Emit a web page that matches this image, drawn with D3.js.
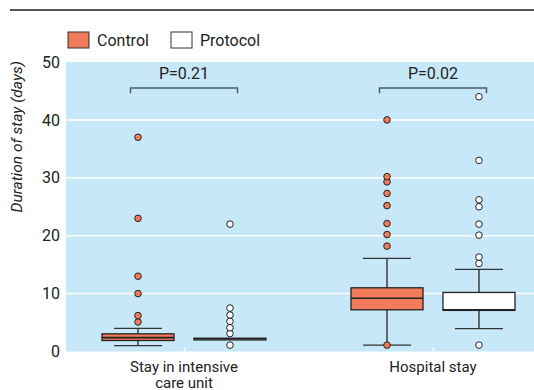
<!DOCTYPE html>
<html>
<head>
<meta charset="utf-8">
<script src="https://cdn.jsdelivr.net/npm/d3@7"></script>
<style>
  body { margin: 0; background: #fff; }
  svg { display: block; font-family: "Roboto", "Liberation Sans", sans-serif; }
</style>
</head>
<body>
<svg id="chart"></svg>
<script>
// categories and groups
const categories = ['Stay in intensive care unit', 'Hospital stay'];
const groups = ['Control', 'Protocol'];
const pValues = ['P=0.21', 'P=0.02'];
const yTicks = [0, 10, 20, 30, 40, 50];

// box stats per category, in order [Control, Protocol]
const icuStats = [
  { low: 1.0, q1: 1.9, median: 2.4, q3: 3.05, high: 4.0 },
  { low: 2.2, q1: 2.0, median: 2.2, q3: 2.3, high: 2.2 }
];
const hospitalStats = [
  { low: 1.1, q1: 7.2, median: 9.2, q3: 11.0, high: 16.1 },
  { low: 3.95, q1: 7.1, median: 7.2, q3: 10.2, high: 14.2 }
];

// outliers
const icuControlOut = [5.1, 6.2, 10, 13, 23, 37];
const icuProtocolOut = [1.1, 3.1, 4.1, 5.2, 6.3, 7.5, 22];
const hospControlOut = [1.1, 18.2, 20.2, 22.1, 25.2, 27.3, 29.3, 30.2, 40];
const hospProtocolOut = [1.1, 15.2, 16.3, 20.1, 22, 25, 26.2, 33, 44];

const colors = { Control: '#f27b5c', Protocol: '#ffffff' };

const W = 534, H = 390;
const margin = { top: 62, right: 0, bottom: 38.5, left: 66 };
const width = W - margin.left - margin.right,
      height = H - margin.top - margin.bottom;

const svg = d3.select('#chart').attr('width', W).attr('height', H);

// rule at the top
svg.append('line')
  .attr('x1', 10).attr('x2', W).attr('y1', 10).attr('y2', 10)
  .attr('stroke', '#555').attr('stroke-width', 2);

// legend
const legend = svg.append('g').attr('transform', 'translate(68,32)');
const legendX = d3.scalePoint().domain(groups).range([0, 103]);
const li = legend.selectAll('g').data(groups).enter().append('g')
  .attr('transform', d => `translate(${legendX(d)},0)`);
li.append('rect')
  .attr('width', 21).attr('height', 16)
  .attr('fill', d => colors[d])
  .attr('stroke', '#333').attr('stroke-width', 1);
li.append('text')
  .attr('x', 29).attr('y', 13.5)
  .attr('font-size', 16).attr('fill', '#222')
  .text(d => d);

const g = svg.append('g').attr('transform', `translate(${margin.left},${margin.top})`);

// background
g.append('rect').attr('width', width).attr('height', height).attr('fill', '#c7e8f8');

const y = d3.scaleLinear().domain([0, 50]).range([height, 0]);
const x = d3.scalePoint().domain(categories).range([118, 367]);
const xg = d3.scaleBand().domain(groups).range([-82, 82]).paddingInner(0.217);
const bw = xg.bandwidth();

// grid
g.selectAll('.grid').data(yTicks.filter(d => d > 0 && d < 50)).enter().append('line')
  .attr('x1', 0).attr('x2', width)
  .attr('y1', d => y(d)).attr('y2', d => y(d))
  .attr('stroke', '#fff').attr('stroke-width', 1.5);

// y axis
const yAxis = g.append('g')
  .call(d3.axisLeft(y).tickValues(yTicks).tickSize(0).tickPadding(6));
yAxis.select('.domain').remove();
yAxis.selectAll('text').attr('font-size', 16).attr('fill', '#222')
  .attr('font-family', '"Roboto", "Liberation Sans", sans-serif');

// x axis (white ticks inside)
const xAxis = g.append('g').attr('transform', `translate(0,${height})`)
  .call(d3.axisTop(x).tickSize(4).tickFormat(''));
xAxis.select('.domain').remove();
xAxis.selectAll('line').attr('stroke', '#fff').attr('stroke-width', 1.5);

// x labels
const labelLines = { 'Stay in intensive care unit': ['Stay in intensive', 'care unit'], 'Hospital stay': ['Hospital stay'] };
categories.forEach(c => {
  const t = svg.append('text')
    .attr('text-anchor', 'middle').attr('font-size', 15).attr('fill', '#222');
  labelLines[c].forEach((ln, i) => {
    t.append('tspan').attr('x', margin.left + x(c)).attr('y', 372 + i * 15.5).text(ln);
  });
});

// y label
svg.append('text')
  .attr('transform', 'translate(22,61) rotate(-90)')
  .attr('text-anchor', 'end')
  .attr('font-size', 15.5).attr('font-style', 'italic').attr('fill', '#222')
  .text('Duration of stay (days)');

// boxes
const boxes = [];
[icuStats, hospitalStats].forEach((stats, ci) => {
  const outs = ci === 0 ? [icuControlOut, icuProtocolOut] : [hospControlOut, hospProtocolOut];
  groups.forEach((gr, gi) => boxes.push({ cat: categories[ci], group: gr, ...stats[gi], out: outs[gi] }));
});

const bg = g.selectAll('.box').data(boxes).enter().append('g')
  .attr('transform', d => `translate(${x(d.cat) + xg(d.group) + bw / 2},0)`);

// whiskers
bg.append('line')
  .attr('y1', d => y(d.low)).attr('y2', d => y(d.high))
  .attr('stroke', '#222').attr('stroke-width', 1.3);
bg.selectAll('.cap').data(d => (d.high > d.q3 ? [d.low, d.high] : [])).enter().append('line')
  .attr('x1', -24).attr('x2', 24)
  .attr('y1', v => y(v)).attr('y2', v => y(v))
  .attr('stroke', '#333').attr('stroke-width', 1.3);

bg.append('rect')
  .attr('x', -bw / 2).attr('width', bw)
  .attr('y', d => y(d.q3)).attr('height', d => y(d.q1) - y(d.q3))
  .attr('fill', d => colors[d.group])
  .attr('stroke', '#222').attr('stroke-width', 1.3);
bg.append('line')
  .attr('x1', -bw / 2).attr('x2', bw / 2)
  .attr('y1', d => y(d.median)).attr('y2', d => y(d.median))
  .attr('stroke', '#222').attr('stroke-width', 1.6);

// outliers
bg.selectAll('circle').data(d => d.out.map(v => ({ v, group: d.group }))).enter().append('circle')
  .attr('cy', d => y(d.v)).attr('r', 3.3)
  .attr('fill', d => colors[d.group])
  .attr('stroke', '#222').attr('stroke-width', 1);

// p-value brackets
const pg = g.selectAll('.p').data(categories).enter().append('g')
  .attr('transform', d => `translate(${x(d)},0)`);
pg.append('path')
  .attr('d', `M-53.5,${y(44.6)}V${y(45.5)}H53.5V${y(44.6)}`)
  .attr('fill', 'none').attr('stroke', '#4b5b62').attr('stroke-width', 1.5);
pg.append('text')
  .attr('y', y(47)).attr('text-anchor', 'middle')
  .attr('font-size', 16).attr('fill', '#222')
  .text((d, i) => pValues[i]);
</script>
</body>
</html>
